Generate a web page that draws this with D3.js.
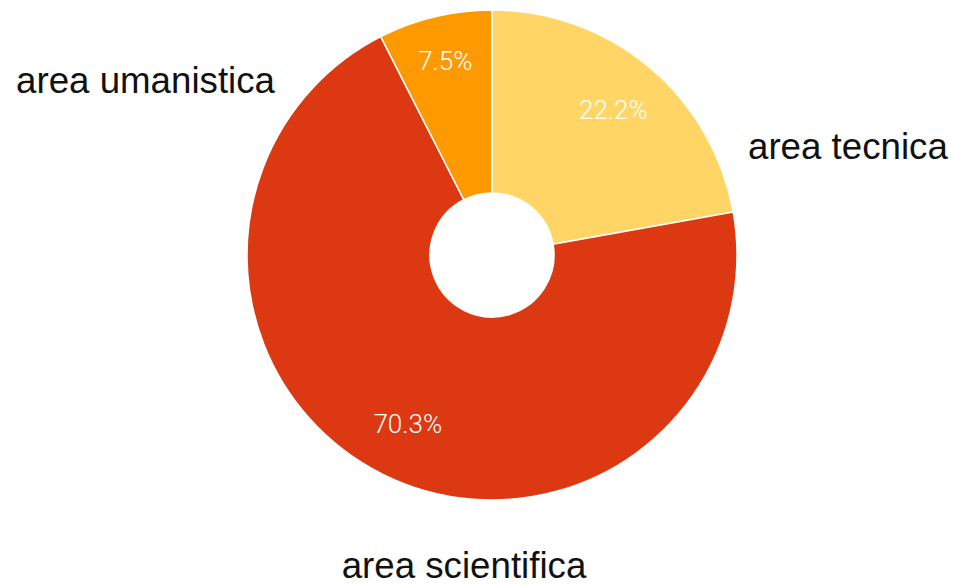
<!DOCTYPE html>
<html>
<head>
<meta charset="utf-8">
<script src="https://d3js.org/d3.v7.min.js"></script>
<style>
  html, body { margin: 0; padding: 0; background: #fff; }
</style>
</head>
<body>
<div id="chart"></div>
<script>
// data
var categories = ["area tecnica", "area scientifica", "area umanistica"];
var shares = [22.2, 70.3, 7.5];
var colors = ["#ffd666", "#dc3912", "#ff9900"];

var width = 953, height = 586;
var cx = 492, cy = 255;
var outerR = 245, innerR = 62;

// where the category names sit, relative to the centre (anchor, dx, baseline dy)
var labelLayout = [
  {anchor: "start", dx: 256, dy: -96},
  {anchor: "middle", dx: -28, dy: 323},
  {anchor: "end", dx: -217, dy: -162}
];

var svg = d3.select("#chart").append("svg")
    .attr("width", width)
    .attr("height", height);

var g = svg.append("g")
    .attr("transform", "translate(" + cx + "," + cy + ")");

var pie = d3.pie().sort(null).value(function(d) { return d; });
var arcs = pie(shares);

var arc = d3.arc().innerRadius(innerR).outerRadius(outerR);
// narrow slices get their label pushed out a bit so it fits
function labelRadius(d) { return (d.endAngle - d.startAngle) < 0.6 ? 200 : 189; }

g.selectAll("path.slice")
    .data(arcs)
    .enter()
    .append("path")
    .attr("class", "slice")
    .attr("d", arc)
    .attr("fill", function(d, i) { return colors[i]; })
    .attr("stroke", "#fff")
    .attr("stroke-width", 1.5);

g.selectAll("text.pct")
    .data(arcs)
    .enter()
    .append("text")
    .attr("class", "pct")
    .attr("transform", function(d) {
      var r = labelRadius(d);
      var c = d3.arc().innerRadius(r).outerRadius(r).centroid(d);
      return "translate(" + c[0] + "," + (c[1] + 9) + ")";
    })
    .attr("text-anchor", "middle")
    .attr("font-family", "Roboto, Arial, sans-serif")
    .attr("font-weight", 300)
    .attr("font-size", "26px")
    .attr("fill", "#ffffff")
    .text(function(d) { return d.data.toFixed(1) + "%"; });

g.selectAll("text.cat")
    .data(categories)
    .enter()
    .append("text")
    .attr("class", "cat")
    .attr("x", function(d, i) { return labelLayout[i].dx; })
    .attr("y", function(d, i) { return labelLayout[i].dy; })
    .attr("text-anchor", function(d, i) { return labelLayout[i].anchor; })
    .attr("font-family", "Liberation Sans, Arial, sans-serif")
    .attr("font-size", "36.7px")
    .attr("fill", "#111")
    .text(function(d) { return d; });
</script>
</body>
</html>
